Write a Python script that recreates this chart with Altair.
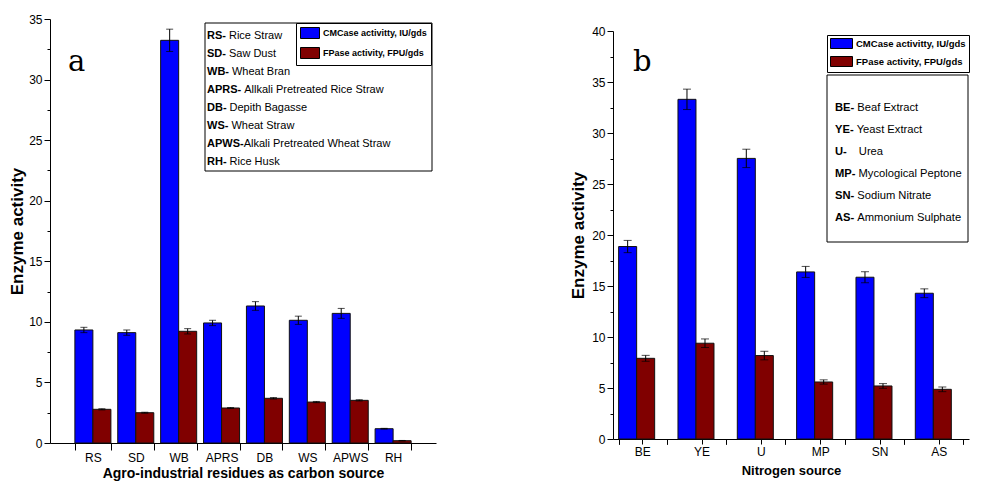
import altair as alt
import pandas as pd

# ---------------- data ----------------
carbon_sources = ["RS", "SD", "WB", "APRS", "DB", "WS", "APWS", "RH"]
cmcase_carbon = [9.33, 9.11, 33.24, 9.91, 11.31, 10.13, 10.70, 1.18]
cmcase_carbon_err = [0.22, 0.22, 0.92, 0.22, 0.36, 0.34, 0.41, 0.03]
fpase_carbon = [2.78, 2.50, 9.22, 2.89, 3.69, 3.38, 3.52, 0.19]
fpase_carbon_err = [0.05, 0.04, 0.22, 0.04, 0.06, 0.05, 0.05, 0.02]

nitrogen_sources = ["BE", "YE", "U", "MP", "SN", "AS"]
cmcase_nitrogen = [18.87, 33.30, 27.51, 16.38, 15.86, 14.29]
cmcase_nitrogen_err = [0.60, 1.00, 0.90, 0.54, 0.54, 0.43]
fpase_nitrogen = [7.91, 9.39, 8.18, 5.59, 5.20, 4.87]
fpase_nitrogen_err = [0.29, 0.42, 0.42, 0.21, 0.23, 0.23]

series_names = ["CMCase activitty, IU/gds", "FPase activity, FPU/gds"]
series_colors = ["#0000FF", "#800000"]

carbon_abbr = ["RS-", "SD-", "WB-", "APRS-", "DB-", "WS-", "APWS-", "RH-"]
carbon_desc = ["Rice Straw", "Saw Dust", "Wheat Bran", "Allkali Pretreated Rice Straw",
               "Depith Bagasse", "Wheat Straw", "Alkali Pretreated Wheat Straw", "Rice Husk"]
nitrogen_abbr = ["BE-", "YE-", "U-", "MP-", "SN-", "AS-"]
nitrogen_desc = ["Beaf Extract", "Yeast Extract", "Urea", "Mycological Peptone",
                 "Sodium Nitrate", "Ammonium Sulphate"]

panel_letters = ["a", "b"]
x_titles = ["Agro-industrial residues as carbon source", "Nitrogen source"]
y_title = "Enzyme activity"

# ---------------- styles ----------------
SANS = "Liberation Sans, Arial, sans-serif"
SERIF = "DejaVu Serif, serif"

BOLD_W = {"A": 722, "B": 722, "D": 722, "E": 667, "H": 722, "M": 833, "N": 722,
          "P": 667, "R": 722, "S": 667, "U": 722, "W": 944, "Y": 667, "-": 333}


def bold_width(s, size):
    return sum(BOLD_W.get(c, 600) for c in s) / 1000.0 * size


def build_df(cats, v1, e1, v2, e2):
    rows = []
    for i, c in enumerate(cats):
        rows.append(dict(cat=c, series=series_names[0], value=v1[i], lo=v1[i] - e1[i], hi=v1[i] + e1[i]))
        rows.append(dict(cat=c, series=series_names[1], value=v2[i], lo=v2[i] - e2[i], hi=v2[i] + e2[i]))
    return pd.DataFrame(rows)


def make_panel(cats, v1, e1, v2, e2, p):
    df = build_df(cats, v1, e1, v2, e2)
    ymax = p["ymax"]
    x_scale = alt.Scale(domain=cats, paddingInner=p["pad_inner"], paddingOuter=p["pad_outer"])
    off = alt.XOffset("series:N", sort=series_names,
                      scale=alt.Scale(domain=series_names, paddingInner=0, paddingOuter=0))
    y_scale = alt.Scale(domain=[0, ymax], nice=False, zero=True, range=p["yrange"])
    yvals = [i * 2.5 for i in range(int(ymax / 2.5) + 1)]
    y_axis = alt.Axis(
        title=y_title, values=yvals, format="d",
        labelExpr="datum.value % 5 === 0 ? datum.label : ''",
        tickSize={"condition": {"test": "datum.value % 5 === 0", "value": 6}, "value": 3},
        grid=False, labelFont=SANS, labelFontSize=12, labelPadding=2,
        titleFont=SANS, titleFontSize=17, titleFontWeight="bold",
        titlePadding=p["ytitle_pad"])
    x_axis = alt.Axis(
        title=p["xtitle"], labelAngle=0, tickBand=p["tick_band"], tickSize=p["xtick"],
        labelFont=SANS, labelFontSize=12, labelPadding=2,
        titleFont=SANS, titleFontSize=p["xtitle_size"], titleFontWeight="bold",
        titlePadding=p["xtitle_pad"], grid=False, orient="bottom")
    x_axis2 = p.get("x_axis2", x_axis)

    def X(axis):
        return alt.X("cat:N", sort=cats, scale=x_scale, axis=axis)

    def Y(field):
        return alt.Y(f"{field}:Q", scale=y_scale, axis=y_axis)

    base = alt.Chart(df)
    bars = base.mark_bar(stroke="#111111", strokeWidth=1).encode(
        x=X(x_axis), xOffset=off, y=Y("value"),
        color=alt.Color("series:N", sort=series_names,
                        scale=alt.Scale(domain=series_names, range=series_colors),
                        legend=p["legend"]))
    err = base.mark_rule(color="black", strokeWidth=1).encode(
        x=X(x_axis2), xOffset=off, y=Y("lo"), y2=alt.Y2("hi"))
    cap_hi = base.mark_tick(color="black", thickness=1, size=p["cap"]).encode(
        x=X(x_axis2), xOffset=off, y=Y("hi"))
    cap_lo = base.mark_tick(color="black", thickness=1, size=p["cap"]).encode(
        x=X(x_axis2), xOffset=off, y=Y("lo"))

    layers = [bars, err, cap_hi, cap_lo]

    bx0, bx1, by0, by1 = p["box"]
    layers.append(alt.Chart(alt.Data(values=[{"k": 1}])).mark_rect(
        fill="white", stroke="black", strokeWidth=1).encode(
        x=alt.value(bx0), x2=alt.value(bx1), y=alt.value(by0), y2=alt.value(by1)))

    tx, ty0, tdy, tsize = p["text"]
    for i, (ab, de) in enumerate(zip(p["abbr"], p["desc"])):
        yy = ty0 + i * tdy
        layers.append(alt.Chart(alt.Data(values=[{"t": ab}])).mark_text(
            font=SANS, fontSize=tsize, fontWeight="bold", align="left", baseline="middle",
            color="black").encode(text="t:N", x=alt.value(tx), y=alt.value(yy)))
        dxp = tx + bold_width(ab, tsize) + p["gaps"][i]
        layers.append(alt.Chart(alt.Data(values=[{"t": de}])).mark_text(
            font=SANS, fontSize=tsize, align="left", baseline="middle",
            color="black").encode(text="t:N", x=alt.value(dxp), y=alt.value(yy)))

    lx, ly, lsize = p["letter"]
    layers.append(alt.Chart(alt.Data(values=[{"t": p["letter_text"]}])).mark_text(
        font=SERIF, fontSize=lsize, align="left", baseline="alphabetic", color="black").encode(
        text="t:N", x=alt.value(lx), y=alt.value(ly)))

    chart = alt.layer(*layers).properties(width=p["width"], height=p["height"])
    if p.get("independent_x"):
        chart = chart.resolve_axis(x="independent")
    return chart


legend_a = alt.Legend(
    title=None, orient="none", legendX=246, legendY=4, direction="vertical",
    symbolType="M-1,-1L2.4545,-1L2.4545,1L-1,1Z", symbolSize=121,
    symbolStrokeColor="black", symbolStrokeWidth=1,
    labelFont=SANS, labelFontSize=9, labelFontWeight="bold", labelColor="black",
    labelOffset=11, rowPadding=4, padding=4, strokeColor="black", fillColor="white")

legend_b = alt.Legend(
    title=None, orient="none", legendX=214, legendY=16, direction="vertical",
    symbolType="M-1,-1L3.4,-1L3.4,1L-1,1Z", symbolSize=100,
    symbolStrokeColor="black", symbolStrokeWidth=1,
    labelFont=SANS, labelFontSize=9.5, labelFontWeight="bold", labelColor="black",
    labelOffset=15, rowPadding=3, padding=3, strokeColor="black", fillColor="white")

pa = dict(
    ymax=35, width=386, height=424, yrange=[424, 0], pad_inner=0.16, pad_outer=0.58,
    xtitle=x_titles[0], xtitle_size=14, xtitle_pad=3, xtick=7, tick_band="extent",
    ytitle_pad=2, legend=legend_a, cap=7,
    box=(155, 382, 4, 152), text=(157, 17, 18, 11),
    abbr=carbon_abbr, desc=carbon_desc, gaps=[3, 3, 3, 3, 3, 3, 0, 3],
    letter=(18, 52, 29), letter_text=panel_letters[0])

x_axis_b_extra = alt.Axis(tickBand="extent", labels=False, title=None, domain=False,
                          orient="bottom", tickSize=5, grid=False)

pb = dict(
    ymax=40, width=356, height=420, yrange=[420, 12], pad_inner=0.19, pad_outer=0.095,
    xtitle=x_titles[1], xtitle_size=13, xtitle_pad=7, xtick=5, tick_band="center",
    ytitle_pad=4, legend=legend_b, cap=8,
    box=(214, 355, 56, 223), text=(222, 89, 22, 11.2),
    abbr=nitrogen_abbr, desc=nitrogen_desc, gaps=[3, 3, 12, 3, 3, 3],
    letter=(20, 52, 29), letter_text=panel_letters[1],
    x_axis2=x_axis_b_extra, independent_x=True)

panel_a = make_panel(carbon_sources, cmcase_carbon, cmcase_carbon_err,
                     fpase_carbon, fpase_carbon_err, pa)
panel_b = make_panel(nitrogen_sources, cmcase_nitrogen, cmcase_nitrogen_err,
                     fpase_nitrogen, fpase_nitrogen_err, pb)

chart = alt.hconcat(panel_a, panel_b, spacing=132).resolve_scale(
    color="independent").resolve_legend(color="independent").properties(
    padding={"left": 0, "top": 4, "right": 0, "bottom": 0}).configure_view(
    stroke="transparent").configure_axis(
    domainColor="black", tickColor="black", labelColor="black", titleColor="black")

chart.save("out.html", embed_options={"renderer": "svg", "actions": False})
